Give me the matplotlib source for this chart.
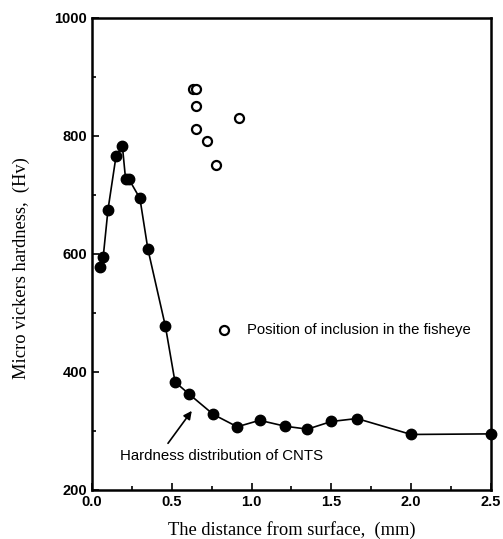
import matplotlib
matplotlib.use("Agg")
import matplotlib.pyplot as plt
from matplotlib.ticker import MultipleLocator

# CNTS hardness distribution (filled)
x_cnts = [0.05, 0.07, 0.10, 0.15, 0.19, 0.21, 0.23, 0.30, 0.35, 0.46, 0.52,
          0.61, 0.76, 0.91, 1.05, 1.21, 1.35, 1.50, 1.66, 2.00, 2.50]
y_cnts = [578, 595, 675, 765, 783, 727, 727, 694, 608, 477, 383,
          362, 328, 307, 318, 308, 303, 316, 321, 294, 295]

# Position of inclusion in the fisheye (hollow)
x_incl = [0.63, 0.65, 0.65, 0.65, 0.72, 0.78, 0.92]
y_incl = [880, 880, 851, 811, 791, 750, 831]

x_ticks = [0.0, 0.5, 1.0, 1.5, 2.0, 2.5]
y_ticks = [200, 400, 600, 800, 1000]

fig = plt.figure(figsize=(5.03, 5.39), dpi=100)
ax = fig.add_axes([0.183, 0.091, 0.793, 0.876])

ax.plot(x_cnts, y_cnts, '-', color='black', lw=1.2, zorder=2)
ax.plot(x_cnts, y_cnts, 'o', color='black', ms=7.5, zorder=3, clip_on=False)
ax.plot(x_incl, y_incl, 'o', mfc='white', mec='black', mew=1.6, ms=6.5, ls='none',
        zorder=3)

# legend-like label
ax.plot([0.83], [471], 'o', mfc='white', mec='black', mew=1.6, ms=6.5)
ax.text(0.97, 471, "Position of inclusion in the fisheye", fontsize=10.7,
        family='Liberation Sans', va='center', ha='left', clip_on=False)

ax.annotate("", xy=(0.625, 334), xytext=(0.476, 279),
            arrowprops=dict(arrowstyle='-|>', color='black', lw=1.2,
                            mutation_scale=12, shrinkA=0, shrinkB=0))
ax.text(0.175, 257, "Hardness distribution of CNTS", fontsize=10.8,
        family='Liberation Sans', va='center', ha='left')

ax.set_xlim(0, 2.5)
ax.set_ylim(200, 1000)
ax.set_xticks(x_ticks)
ax.set_yticks(y_ticks)
ax.xaxis.set_minor_locator(MultipleLocator(0.25))
ax.yaxis.set_minor_locator(MultipleLocator(100))
ax.tick_params(which='both', direction='in', top=False, right=False,
               width=1.2, labelsize=10.5)
ax.tick_params(which='major', length=5)
ax.tick_params(which='minor', length=3)
ax.set_xticklabels(['0.0', '0.5', '1.0', '1.5', '2.0', '2.5'])
ax.set_yticklabels(['200', '400', '600', '800', '1000'])
for lab in ax.get_xticklabels() + ax.get_yticklabels():
    lab.set_family('Liberation Sans')
    lab.set_fontweight('bold')
for sp in ax.spines.values():
    sp.set_linewidth(1.8)

ax.set_xlabel("The distance from surface,  (mm)", family='Liberation Serif',
              fontsize=13.3, labelpad=9)
ax.set_ylabel("Micro vickers hardness,  (Hv)", family='Liberation Serif',
              fontsize=13.3)
ax.yaxis.set_label_coords(-0.155, 0.47)

fig.savefig("out.png", dpi=100)
